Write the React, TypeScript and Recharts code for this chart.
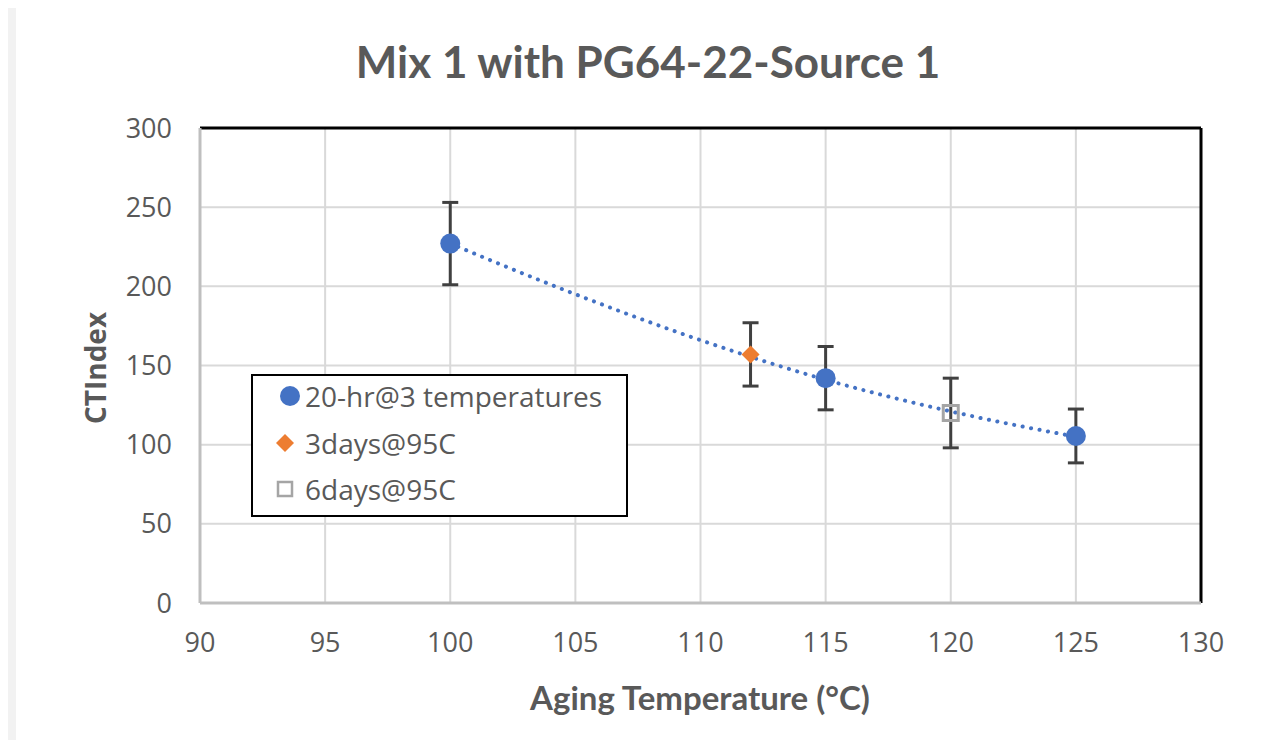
import React from 'react';
import {
  ComposedChart, Scatter, Line, XAxis, YAxis, CartesianGrid, ErrorBar, ReferenceLine,
} from 'recharts';

const title = 'Mix 1 with PG64-22-Source 1';
const xTitle = 'Aging Temperature (°C)';
const yTitle = 'CTIndex';
const xTicks = [90, 95, 100, 105, 110, 115, 120, 125, 130];
const yTicks = [0, 50, 100, 150, 200, 250, 300];

const seriesNames = ['20-hr@3 temperatures', '3days@95C', '6days@95C'];

const temp20hr = [100, 115, 125];
const ct20hr = [227, 142, 105.5];
const err20hr = [26, 20, 17];

const temp3days = [112];
const ct3days = [157];
const err3days = [20];

const temp6days = [120];
const ct6days = [120];
const err6days = [22];

const trendTemps = [100, 105, 110, 115, 120, 125];
const trendValues = [227, 195, 166, 141, 121, 105];

const BLUE = '#4472c4';
const ORANGE = '#ed7d31';
const GRAY = '#a5a5a5';
const TEXT = '#595959';

const build = (xs: number[], ys: number[], es: number[]) =>
  xs.map((x, i) => ({ x, y: ys[i], err: es[i] }));

const data20 = build(temp20hr, ct20hr, err20hr);
const data3 = build(temp3days, ct3days, err3days);
const data6 = build(temp6days, ct6days, err6days);
const trendData = trendTemps.map((x, i) => ({ x, y: trendValues[i] }));

const Circle = (p: any) => <circle cx={p.cx} cy={p.cy} r={10} fill={BLUE} />;
const Diamond = (p: any) => (
  <polygon
    points={`${p.cx},${p.cy - 9} ${p.cx + 9},${p.cy} ${p.cx},${p.cy + 9} ${p.cx - 9},${p.cy}`}
    fill={ORANGE}
  />
);
const Square = (p: any) => (
  <rect x={p.cx - 7.5} y={p.cy - 7.5} width={15} height={15} fill="none" stroke={GRAY} strokeWidth={3} />
);

const tickFont = { fontFamily: '"Open Sans", "Noto Sans", sans-serif', fontSize: 27, fill: TEXT };

export default function App() {
  return (
    <div style={{ margin: -8, width: 1281, height: 748, background: '#f2f2f2', position: 'relative', overflow: 'hidden' }}>
      <div style={{ position: 'absolute', left: 16, top: 6, width: 1265, height: 742, background: '#ffffff' }} />
      <div style={{ position: 'absolute', left: 0, top: 0 }}>
        <ComposedChart width={1281} height={748} margin={{ top: 128, right: 80, bottom: 65, left: 80 }}>
          <CartesianGrid stroke="#d9d9d9" strokeWidth={2} vertical horizontal />
          <XAxis
            type="number"
            dataKey="x"
            domain={[90, 130]}
            ticks={xTicks}
            allowDataOverflow
            height={80}
            tickSize={0}
            tickMargin={30}
            axisLine={{ stroke: '#bfbfbf', strokeWidth: 3 }}
            tick={tickFont}
          />
          <YAxis
            type="number"
            dataKey="y"
            domain={[0, 300]}
            ticks={yTicks}
            allowDataOverflow
            width={120}
            tickSize={0}
            tickMargin={28}
            axisLine={{ stroke: '#bfbfbf', strokeWidth: 3 }}
            tick={tickFont}
          />
          <ReferenceLine y={300} stroke="#000000" strokeWidth={3} />
          <ReferenceLine x={130} stroke="#000000" strokeWidth={3} />
          <Scatter name={seriesNames[1]} data={data3} shape={Diamond} isAnimationActive={false}>
            <ErrorBar dataKey="err" direction="y" width={8} strokeWidth={3} stroke="#404040" />
          </Scatter>
          <Scatter name={seriesNames[2]} data={data6} shape={Square} isAnimationActive={false}>
            <ErrorBar dataKey="err" direction="y" width={8} strokeWidth={3} stroke="#404040" />
          </Scatter>
          <Scatter name={seriesNames[0]} data={data20} shape={Circle} isAnimationActive={false}>
            <ErrorBar dataKey="err" direction="y" width={8} strokeWidth={3} stroke="#404040" />
          </Scatter>
          <Line
            data={trendData}
            dataKey="y"
            type="monotone"
            dot={false}
            activeDot={false}
            stroke={BLUE}
            strokeWidth={4}
            strokeDasharray="0.1 8.5"
            strokeLinecap="round"
            isAnimationActive={false}
            legendType="none"
          />
        </ComposedChart>
      </div>
      <div style={{
        position: 'absolute', left: 348, top: 35, width: 600, textAlign: 'center', lineHeight: '52px',
        fontFamily: 'Lato, sans-serif', fontWeight: 700, fontSize: 44, color: TEXT, whiteSpace: 'nowrap',
      }}>{title}</div>
      <div style={{
        position: 'absolute', left: 500, top: 677, width: 400, textAlign: 'center', lineHeight: '40px',
        fontFamily: 'Lato, sans-serif', fontWeight: 700, fontSize: 33, color: TEXT, whiteSpace: 'nowrap',
      }}>{xTitle}</div>
      <div style={{
        position: 'absolute', left: 95, top: 368, width: 0, height: 0,
      }}>
        <div style={{
          position: 'absolute', transform: 'translate(-50%, -50%) rotate(-90deg)',
          fontFamily: '"Open Sans", sans-serif', fontWeight: 700, fontSize: 28, color: TEXT, whiteSpace: 'nowrap',
        }}>{yTitle}</div>
      </div>
      <div style={{
        position: 'absolute', left: 251, top: 374, width: 377, height: 143, boxSizing: 'border-box',
        border: '2px solid #000', background: '#fff',
        fontFamily: '"Open Sans", sans-serif', fontSize: 28, color: TEXT,
      }}>
        {seriesNames.map((name, i) => (
          <div key={name} style={{ position: 'absolute', left: 22, top: 0 + i * 46.5, height: 40, display: 'flex', alignItems: 'center', whiteSpace: 'nowrap' }}>
            <svg width={26} height={26} style={{ marginRight: 4 }}>
              {i === 0 && <circle cx={15} cy={13} r={10} fill={BLUE} />}
              {i === 1 && <polygon points="10,4 19,13 10,22 1,13" fill={ORANGE} />}
              {i === 2 && <rect x={3} y={6} width={14} height={14} fill="none" stroke={GRAY} strokeWidth={2.5} />}
            </svg>
            <span>{name}</span>
          </div>
        ))}
      </div>
    </div>
  );
}
